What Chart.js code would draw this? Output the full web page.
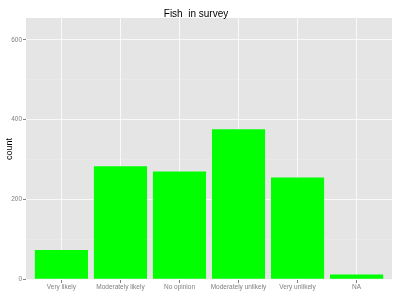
<!DOCTYPE html>
<html>
<head>
<meta charset="utf-8">
<script src="https://cdn.jsdelivr.net/npm/chart.js@4"></script>
<style>
  html, body { margin: 0; padding: 0; background: #fff; }
  #wrap { width: 400px; height: 300px; }
</style>
</head>
<body>
<div id="wrap"><canvas id="chart" width="400" height="300"></canvas></div>
<script>
// Survey answers and how many fish respondents gave each one
const categories = ['Very likely', 'Moderately likely', 'No opinion', 'Moderately unlikely', 'Very unlikely', 'NA'];
const counts = [73, 283, 270, 376, 255, 12];
const yTicks = [0, 100, 200, 300, 400, 500, 600];
const yLabelTicks = [0, 200, 400, 600];

// grey panel behind the bars (ggplot look)
const panelBg = {
    id: 'panelBg',
    beforeDraw(chart) {
        const { ctx, chartArea: a } = chart;
        ctx.save();
        ctx.fillStyle = '#E5E5E5';
        ctx.fillRect(a.left, a.top, a.right - a.left, a.bottom - a.top);
        ctx.restore();
    }
};

const isMajor = v => yLabelTicks.includes(v);
const FONT = 'Liberation Sans, Arial, sans-serif';
const MAJOR_GRID = 'rgba(255,255,255,0.75)';
const MINOR_GRID = 'rgba(255,255,255,0.35)';

new Chart(document.getElementById('chart').getContext('2d'), {
    type: 'bar',
    data: {
        datasets: [{
            label: 'count',
            data: categories.map((c, i) => ({ x: i + 1, y: counts[i] })),
            backgroundColor: '#00FF00',
            borderWidth: 0,
            barPercentage: 0.9,
            categoryPercentage: 1
        }]
    },
    options: {
        responsive: false,
        animation: false,
        layout: { padding: { left: 0, right: 8, top: 0, bottom: 0 } },
        plugins: {
            legend: { display: false },
            tooltip: { enabled: false },
            title: {
                display: true,
                text: 'Fish  in survey',
                color: '#000',
                font: { family: FONT, size: 10, weight: 'normal' },
                padding: { top: 8, bottom: -2 }
            }
        },
        scales: {
            x: {
                type: 'linear',
                min: 0.4,
                max: 6.6,
                offset: false,
                afterBuildTicks: s => { s.ticks = categories.map((c, i) => ({ value: i + 1 })); },
                afterFit: s => { s.height = 20; },
                border: { display: false },
                grid: {
                    offset: false,
                    color: MAJOR_GRID,
                    lineWidth: 1,
                    drawTicks: true,
                    tickLength: 3,
                    tickColor: '#7F7F7F'
                },
                ticks: {
                    autoSkip: false,
                    maxRotation: 0,
                    padding: 0,
                    color: '#7F7F7F',
                    font: { family: FONT, size: 6.5 },
                    callback: v => categories[v - 1] || ''
                }
            },
            y: {
                min: -2,
                max: 655,
                afterBuildTicks: s => { s.ticks = yTicks.map(v => ({ value: v })); },
                afterFit: s => { s.width = 26; },
                border: { display: false },
                grid: {
                    color: ctx => isMajor(ctx.tick.value) ? MAJOR_GRID : MINOR_GRID,
                    lineWidth: ctx => isMajor(ctx.tick.value) ? 1 : 0.5,
                    drawTicks: true,
                    tickLength: 3,
                    tickColor: ctx => isMajor(ctx.tick.value) ? '#7F7F7F' : 'rgba(0,0,0,0)'
                },
                ticks: {
                    padding: 1,
                    color: '#7F7F7F',
                    font: { family: FONT, size: 6.5 },
                    callback: v => isMajor(v) ? String(v) : ''
                },
                title: {
                    display: true,
                    text: 'count',
                    color: '#000',
                    font: { family: FONT, size: 9 },
                    padding: { top: 4, bottom: 0 }
                }
            }
        }
    },
    plugins: [panelBg]
});
</script>
</body>
</html>
